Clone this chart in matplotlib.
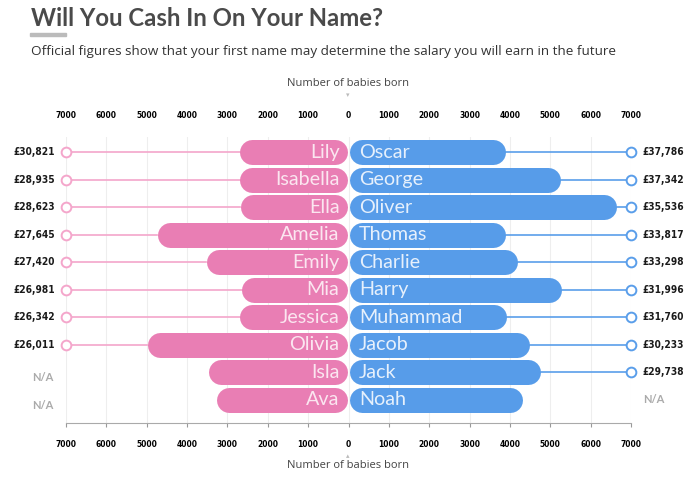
import numpy as np
import matplotlib.pyplot as plt
from matplotlib.patches import Rectangle

plt.rcParams["font.family"] = ["Lato", "DejaVu Sans"]

# Data
girls = ["Lily", "Isabella", "Ella", "Amelia", "Emily", "Mia", "Jessica", "Olivia", "Isla", "Ava"]
girl_babies = [2700, 2700, 2680, 4740, 3520, 2650, 2700, 4990, 3470, 3275]
girl_salary = ["£30,821", "£28,935", "£28,623", "£27,645", "£27,420", "£26,981",
               "£26,342", "£26,011", None, None]

boys = ["Oscar", "George", "Oliver", "Thomas", "Charlie", "Harry", "Muhammad", "Jacob", "Jack", "Noah"]
boy_babies = [3900, 5260, 6650, 3900, 4190, 5280, 3910, 4490, 4760, 4320]
boy_salary = ["£37,786", "£37,342", "£35,536", "£33,817", "£33,298", "£31,996",
              "£31,760", "£30,233", "£29,738", None]

tick_values = np.arange(-7000, 7001, 1000)
max_val = 7000

pink = "#E97EB4"
pink_line = "#F4A6CB"
blue = "#579CE9"
blue_line = "#5A9EEA"
narrow = dict(family="DejaVu Sans", fontstretch="condensed", fontweight="bold")

fig = plt.figure(figsize=(6.96, 4.87), dpi=100)
ax = fig.add_axes([66 / 696, 1 - 423 / 487, 565 / 696, 286 / 487])
ax.set_xlim(-max_val, max_val)
ax.set_ylim(9.85, -0.55)

# bar geometry (round-capped thick lines)
bar_px = 25
bar_lw = bar_px * 0.72
px_per_unit = 565 / 14000
r = (bar_px / 2) / px_per_unit
gap = 1 / px_per_unit

for i in range(len(girls)):
    # salary connector lines + circles
    if girl_salary[i] is not None:
        ax.plot([-max_val, -girl_babies[i]], [i, i], color=pink_line, lw=1.2, zorder=2, clip_on=False)
        ax.plot([-max_val], [i], marker="o", ms=7, mfc="white", mec=pink_line, mew=1.4,
                zorder=4, clip_on=False)
        ax.annotate(girl_salary[i], (-max_val, i), xytext=(-8, 0), textcoords="offset points",
                    ha="right", va="center", fontsize=7.3, color="#1a1a1a", **narrow)
    else:
        ax.annotate("N/A", (-max_val, i), xytext=(-9, -4), textcoords="offset points",
                    ha="right", va="center", fontsize=8, fontweight="bold", color="#aaaaaa")
    if boy_salary[i] is not None:
        ax.plot([boy_babies[i], max_val], [i, i], color=blue_line, lw=1.2, zorder=2, clip_on=False)
        ax.plot([max_val], [i], marker="o", ms=7, mfc="white", mec=blue_line, mew=1.4,
                zorder=4, clip_on=False)
        ax.annotate(boy_salary[i], (max_val, i), xytext=(8.5, 0), textcoords="offset points",
                    ha="left", va="center", fontsize=7.3, color="#1a1a1a", **narrow)
    else:
        ax.annotate("N/A", (max_val, i), xytext=(9, 0), textcoords="offset points",
                    ha="left", va="center", fontsize=8, fontweight="bold", color="#aaaaaa")

    # bars
    ax.plot([-girl_babies[i] + r, -gap - r], [i, i], color=pink, lw=bar_lw,
            solid_capstyle="round", zorder=3)
    ax.plot([gap + r, boy_babies[i] - r], [i, i], color=blue, lw=bar_lw,
            solid_capstyle="round", zorder=3)

    # names
    ax.annotate(girls[i], (0, i), xytext=(-6.5, 0), textcoords="offset points",
                ha="right", va="center", fontsize=14.2, color="#fbe6f0", zorder=5)
    ax.annotate(boys[i], (0, i), xytext=(7.5, 0), textcoords="offset points",
                ha="left", va="center", fontsize=14.2, color="#e6f0fc", zorder=5)

# axes styling
ax.set_xticks(tick_values)
ax.set_xticklabels([str(abs(v)) for v in tick_values], **narrow)
ax.tick_params(axis="x", labelsize=6, length=3, color="#999999", pad=9,
               labeltop=True, top=False)
ax.tick_params(axis="y", left=False, labelleft=False)
ax.xaxis.grid(True, color="#eeeeee", lw=0.8)
ax.set_axisbelow(True)
for s in ["top", "left", "right"]:
    ax.spines[s].set_visible(False)
ax.spines["bottom"].set_color("#aaaaaa")
ax.spines["bottom"].set_linewidth(0.8)

# titles and axis captions
fig.text(31 / 696, 1 - 19 / 487, "Will You Cash In On Your Name?", fontsize=17.2,
         fontweight="bold", color="#4a4a4a", ha="left", va="center")
fig.patches.append(Rectangle((30 / 696, 1 - 36 / 487), 36 / 696, 3 / 487,
                             transform=fig.transFigure, color="#bbbbbb", figure=fig))
fig.text(31 / 696, 1 - 51 / 487,
         "Official figures show that your first name may determine the salary you will earn in the future",
         fontsize=9.7, family="Open Sans", color="#333333", ha="left", va="center")
fig.text(348 / 696, 1 - 84 / 487, "Number of babies born", fontsize=8,
         family="Open Sans", color="#444444", ha="center", va="center")
fig.text(348 / 696, 1 - 95 / 487, "▾", fontsize=5, color="#bbbbbb", ha="center", va="center")
fig.text(348 / 696, 1 - 466 / 487, "Number of babies born", fontsize=8,
         family="Open Sans", color="#444444", ha="center", va="center")
fig.text(348 / 696, 1 - 456 / 487, "▴", fontsize=5, color="#bbbbbb", ha="center", va="center")

fig.savefig("out.png", dpi=100, facecolor="white")
